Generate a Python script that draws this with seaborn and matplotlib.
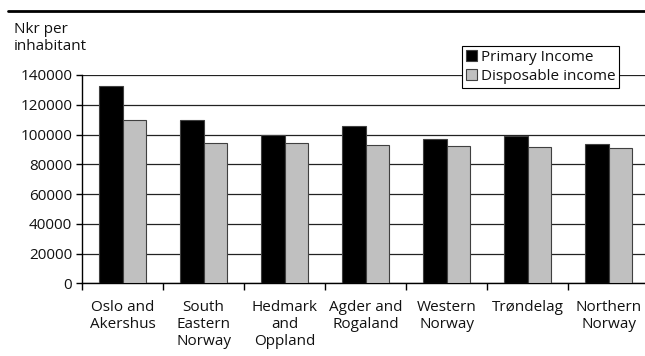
import matplotlib
matplotlib.use("Agg")
import matplotlib.pyplot as plt
import seaborn as sns
import pandas as pd
import numpy as np
from matplotlib.lines import Line2D
from matplotlib.ticker import FixedLocator

regions = ["Oslo and\nAkershus", "South\nEastern\nNorway", "Hedmark\nand\nOppland",
           "Agder and\nRogaland", "Western\nNorway", "Trøndelag", "Northern\nNorway"]
primary_income = [132800, 110000, 100000, 105800, 97200, 99200, 93400]
disposable_income = [109800, 94500, 94300, 93200, 92500, 91300, 91000]
series_names = ["Primary Income", "Disposable income"]
y_ticks = [0, 20000, 40000, 60000, 80000, 100000, 120000, 140000]

df = pd.DataFrame({
    "region": regions * 2,
    "value": primary_income + disposable_income,
    "series": [series_names[0]] * len(regions) + [series_names[1]] * len(regions),
})

sns.set_theme(style="white")
plt.rcParams["font.family"] = ["Open Sans", "DejaVu Sans"]
FS = 11

fig = plt.figure(figsize=(6.45, 3.56), dpi=100)
ax = fig.add_axes([82 / 645, (356 - 283.3) / 356, 1 - 82 / 645, (283.3 - 75) / 356])

sns.barplot(data=df, x="region", y="value", hue="series",
            palette=["black", "#c0c0c0"], width=0.57,
            edgecolor="#404040", linewidth=0.8, ax=ax, zorder=3)

ax.set_ylim(0, 140000)
ax.set_xlim(-0.5, 6.45)
ax.set_yticks(y_ticks)
ax.set_yticklabels([str(t) for t in y_ticks], fontsize=FS, color="#111111")
ax.yaxis.grid(True, color="#222222", linewidth=0.9, zorder=0)
ax.set_axisbelow(True)
ax.set_xlabel("")
ax.set_ylabel("")

for s in ["top", "right"]:
    ax.spines[s].set_visible(False)
for s in ["left", "bottom"]:
    ax.spines[s].set_color("black")
    ax.spines[s].set_linewidth(1.0)

ax.tick_params(axis="y", which="major", left=True, length=4, width=1, color="black", pad=3)
ax.tick_params(axis="x", which="major", bottom=False, length=0, pad=12, labelsize=FS,
               labelcolor="#111111")
ax.xaxis.set_minor_locator(FixedLocator(np.arange(-0.5, 6.6, 1.0)))
ax.tick_params(axis="x", which="minor", bottom=True, length=5, width=1, color="black", direction="out")
for lbl in ax.get_xticklabels():
    lbl.set_linespacing(1.2)
    lbl.set_verticalalignment("top")

leg = ax.legend(loc="upper left", bbox_to_anchor=(461.7 / 645, 1 - 45.7 / 356),
                bbox_transform=fig.transFigure, frameon=True, fancybox=False,
                edgecolor="black", framealpha=1, fontsize=FS,
                handlelength=0.75, handleheight=0.75, handletextpad=0.25,
                borderpad=0.25, labelspacing=0.3, borderaxespad=0)
leg.get_frame().set_linewidth(0.8)
leg.set_zorder(10)
for t in leg.get_texts():
    t.set_color("#111111")

fig.text(14 / 645, 1 - 22 / 356, "Nkr per\ninhabitant", fontsize=FS, va="top", ha="left",
         linespacing=1.2, color="#111111")
fig.add_artist(Line2D([8 / 645, 1.0], [1 - 11 / 356, 1 - 11 / 356], color="black", linewidth=2,
                      transform=fig.transFigure))

fig.savefig("out.png", dpi=100)
